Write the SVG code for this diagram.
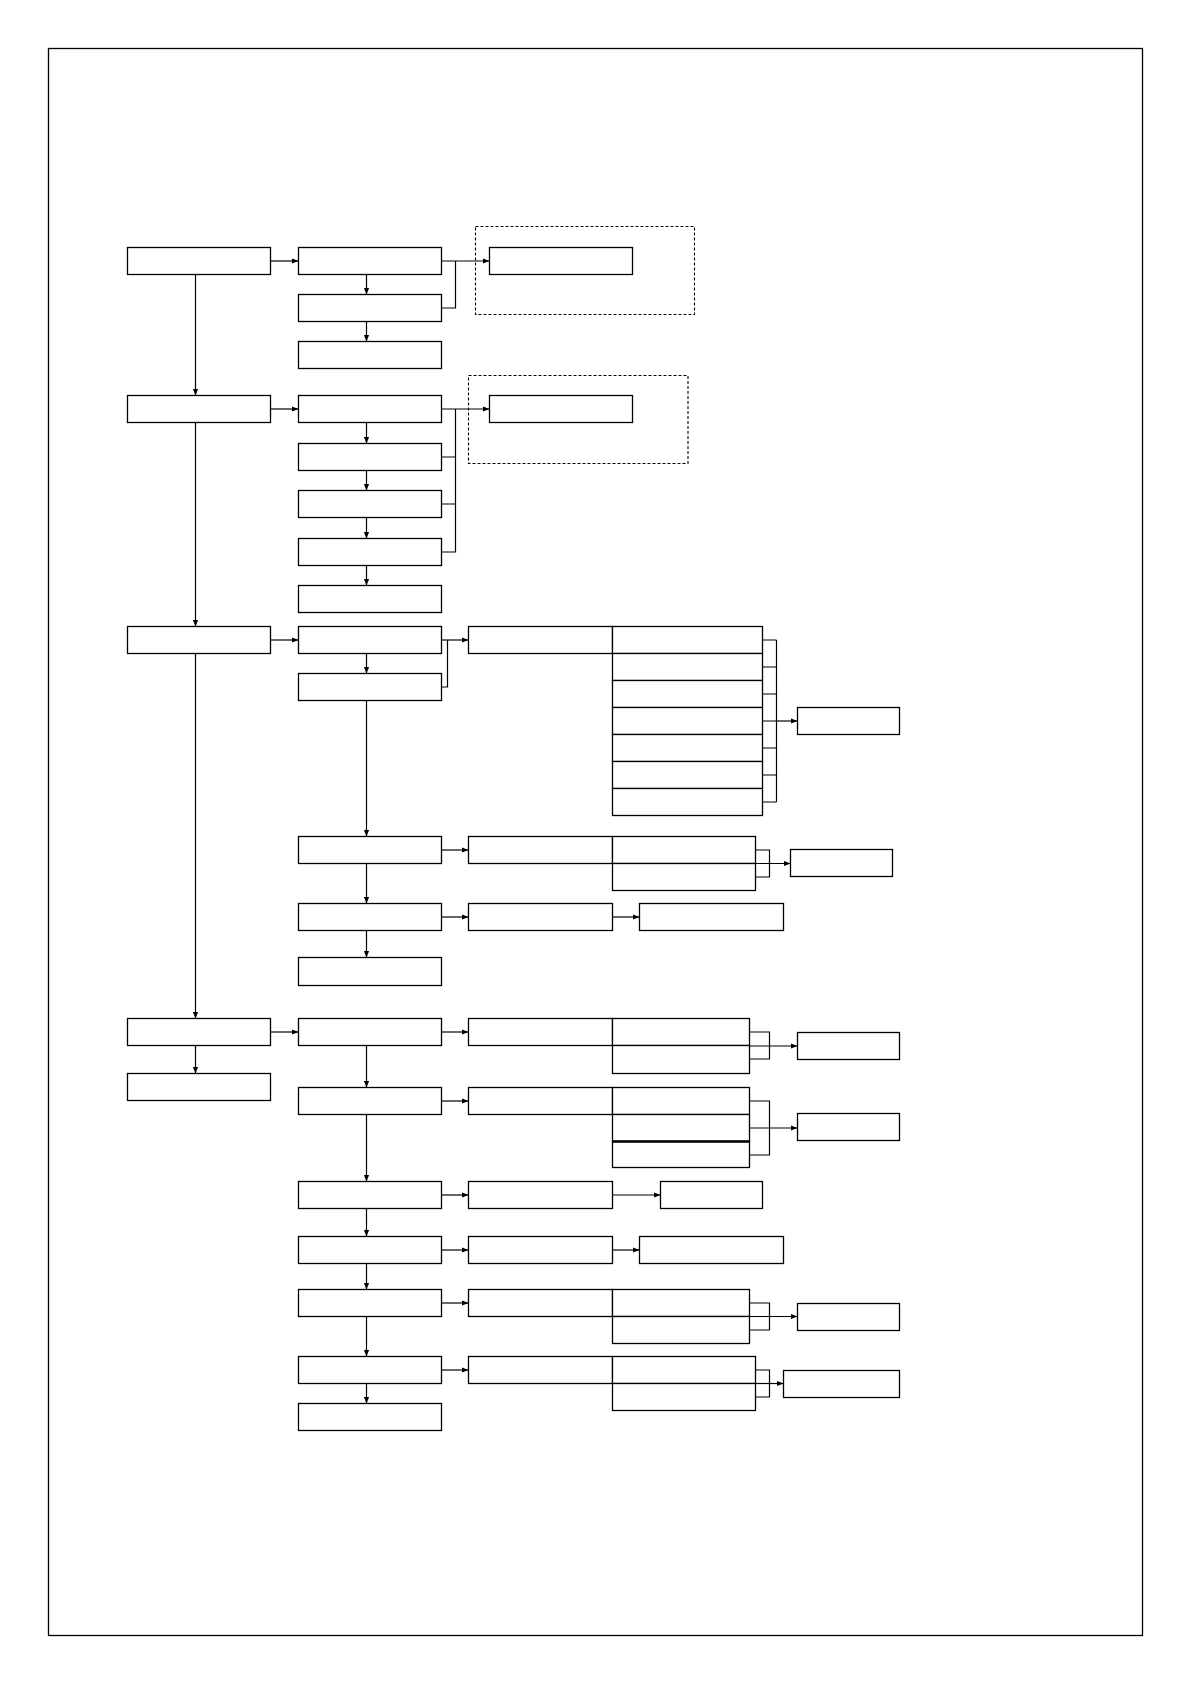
<svg xmlns="http://www.w3.org/2000/svg" width="1191" height="1684" viewBox="0 0 1191 1684">
<style>
.n{fill:#fff;stroke:#000;stroke-width:1.3}
.d{fill:none;stroke:#000;stroke-width:1.1;stroke-dasharray:3 2}
.c{fill:none;stroke:#000;stroke-width:1.2}
.a{fill:none;stroke:#000;stroke-width:1.2;marker-end:url(#ah)}
</style>
<defs>
<marker id="ah" viewBox="0 0 10 10" refX="10" refY="5" markerWidth="7" markerHeight="7" markerUnits="userSpaceOnUse" orient="auto"><path d="M0,1 L10,5 L0,9 z" fill="#000"/></marker>
</defs>
<rect width="1191" height="1684" fill="#fff"/>
<rect x="48.5" y="48.5" width="1094" height="1587" fill="none" stroke="#000" stroke-width="1.3"/>
<g id="groups">
<rect id="dash1" class="d" x="475.5" y="226.5" width="219" height="88"/>
<rect id="dash2" class="d" x="468.5" y="375.5" width="219.5" height="88"/>
</g>
<g id="nodes">
<g id="A1"><rect class="n" x="127.5" y="247.5" width="143" height="27"/></g>
<g id="A2"><rect class="n" x="127.5" y="395.5" width="143" height="27"/></g>
<g id="A3"><rect class="n" x="127.5" y="626.5" width="143" height="27"/></g>
<g id="A4"><rect class="n" x="127.5" y="1018.5" width="143" height="27"/></g>
<g id="A5"><rect class="n" x="127.5" y="1073.5" width="143" height="27"/></g>
<g id="B1"><rect class="n" x="298.5" y="247.5" width="143" height="27"/></g>
<g id="B2"><rect class="n" x="298.5" y="294.5" width="143" height="27"/></g>
<g id="B3"><rect class="n" x="298.5" y="341.5" width="143" height="27"/></g>
<g id="B4"><rect class="n" x="298.5" y="395.5" width="143" height="27"/></g>
<g id="B5"><rect class="n" x="298.5" y="443.5" width="143" height="27"/></g>
<g id="B6"><rect class="n" x="298.5" y="490.5" width="143" height="27"/></g>
<g id="B7"><rect class="n" x="298.5" y="538.5" width="143" height="27"/></g>
<g id="B8"><rect class="n" x="298.5" y="585.5" width="143" height="27"/></g>
<g id="B9"><rect class="n" x="298.5" y="626.5" width="143" height="27"/></g>
<g id="B10"><rect class="n" x="298.5" y="673.5" width="143" height="27"/></g>
<g id="B11"><rect class="n" x="298.5" y="836.5" width="143" height="27"/></g>
<g id="B12"><rect class="n" x="298.5" y="903.5" width="143" height="27"/></g>
<g id="B13"><rect class="n" x="298.5" y="957.5" width="143" height="28"/></g>
<g id="B14"><rect class="n" x="298.5" y="1018.5" width="143" height="27"/></g>
<g id="B15"><rect class="n" x="298.5" y="1087.5" width="143" height="27"/></g>
<g id="B16"><rect class="n" x="298.5" y="1181.5" width="143" height="27"/></g>
<g id="B17"><rect class="n" x="298.5" y="1236.5" width="143" height="27"/></g>
<g id="B18"><rect class="n" x="298.5" y="1289.5" width="143" height="27"/></g>
<g id="B19"><rect class="n" x="298.5" y="1356.5" width="143" height="27"/></g>
<g id="B20"><rect class="n" x="298.5" y="1403.5" width="143" height="27"/></g>
<g id="C1"><rect class="n" x="489.5" y="247.5" width="143" height="27"/></g>
<g id="C2"><rect class="n" x="489.5" y="395.5" width="143" height="27"/></g>
<g id="C3"><rect class="n" x="468.5" y="626.5" width="144" height="27"/></g>
<g id="C4"><rect class="n" x="468.5" y="836.5" width="144" height="27"/></g>
<g id="C5"><rect class="n" x="468.5" y="903.5" width="144" height="27"/></g>
<g id="C6"><rect class="n" x="468.5" y="1018.5" width="144" height="27"/></g>
<g id="C7"><rect class="n" x="468.5" y="1087.5" width="144" height="27"/></g>
<g id="C8"><rect class="n" x="468.5" y="1181.5" width="144" height="27"/></g>
<g id="C9"><rect class="n" x="468.5" y="1236.5" width="144" height="27"/></g>
<g id="C10"><rect class="n" x="468.5" y="1289.5" width="144" height="27"/></g>
<g id="C11"><rect class="n" x="468.5" y="1356.5" width="144" height="27"/></g>
<g id="D3">
<rect class="n" x="612.5" y="626.5" width="150" height="27"/>
<rect class="n" x="612.5" y="653.5" width="150" height="27"/>
<rect class="n" x="612.5" y="680.5" width="150" height="27"/>
<rect class="n" x="612.5" y="707.5" width="150" height="27"/>
<rect class="n" x="612.5" y="734.5" width="150" height="27"/>
<rect class="n" x="612.5" y="761.5" width="150" height="27"/>
<rect class="n" x="612.5" y="788.5" width="150" height="27"/>
</g>
<g id="D4">
<rect class="n" x="612.5" y="836.5" width="143" height="27"/>
<rect class="n" x="612.5" y="863.5" width="143" height="27"/>
</g>
<g id="D6">
<rect class="n" x="612.5" y="1018.5" width="137" height="27"/>
<rect class="n" x="612.5" y="1045.5" width="137" height="28"/>
</g>
<g id="D7">
<rect class="n" x="612.5" y="1087.5" width="137" height="27"/>
<rect class="n" x="612.5" y="1114.5" width="137" height="27"/>
<rect class="n" x="612.5" y="1141.5" width="137" height="26"/>
<line x1="612.5" y1="1141.5" x2="749.5" y2="1141.5" stroke="#000" stroke-width="2.4"/>
</g>
<g id="D10">
<rect class="n" x="612.5" y="1289.5" width="137" height="27"/>
<rect class="n" x="612.5" y="1316.5" width="137" height="27"/>
</g>
<g id="D11">
<rect class="n" x="612.5" y="1356.5" width="143" height="27"/>
<rect class="n" x="612.5" y="1383.5" width="143" height="27"/>
</g>
<g id="E1"><rect class="n" x="797.5" y="707.5" width="102" height="27"/></g>
<g id="E2"><rect class="n" x="790.5" y="849.5" width="102" height="27"/></g>
<g id="E3"><rect class="n" x="797.5" y="1032.5" width="102" height="27"/></g>
<g id="E4"><rect class="n" x="797.5" y="1113.5" width="102" height="27"/></g>
<g id="E5"><rect class="n" x="797.5" y="1303.5" width="102" height="27"/></g>
<g id="E6"><rect class="n" x="783.5" y="1370.5" width="116" height="27"/></g>
<g id="F1"><rect class="n" x="639.5" y="903.5" width="144" height="27"/></g>
<g id="F2"><rect class="n" x="639.5" y="1236.5" width="144" height="27"/></g>
<g id="G1"><rect class="n" x="660.5" y="1181.5" width="102" height="27"/></g>
</g>
<g id="connectors">
<path class="a" d="M195.5,274.5 V395.5"/>
<path class="a" d="M195.5,422.5 V626.5"/>
<path class="a" d="M195.5,653.5 V1018.5"/>
<path class="a" d="M195.5,1045.5 V1073.5"/>
<path class="a" d="M270.5,261 H298.5"/>
<path class="a" d="M270.5,409 H298.5"/>
<path class="a" d="M270.5,640 H298.5"/>
<path class="a" d="M270.5,1032 H298.5"/>
<path class="a" d="M366.5,274.5 V294.5"/>
<path class="a" d="M366.5,321.5 V341.5"/>
<path class="a" d="M366.5,422.5 V443.5"/>
<path class="a" d="M366.5,470.5 V490.5"/>
<path class="a" d="M366.5,517.5 V538.5"/>
<path class="a" d="M366.5,565.5 V585.5"/>
<path class="a" d="M366.5,653.5 V673.5"/>
<path class="a" d="M366.5,700.5 V836.5"/>
<path class="a" d="M366.5,863.5 V903.5"/>
<path class="a" d="M366.5,930.5 V957.5"/>
<path class="a" d="M366.5,1045.5 V1087.5"/>
<path class="a" d="M366.5,1114.5 V1181.5"/>
<path class="a" d="M366.5,1208.5 V1236.5"/>
<path class="a" d="M366.5,1263.5 V1289.5"/>
<path class="a" d="M366.5,1316.5 V1356.5"/>
<path class="a" d="M366.5,1383.5 V1403.5"/>
<path class="a" d="M441.5,261 H489.5"/>
<path class="c" d="M441.5,308 H455.5 V261"/>
<path class="a" d="M441.5,409 H489.5"/>
<path class="c" d="M441.5,457 H455.5 M441.5,504 H455.5 M441.5,552 H455.5 V409"/>
<path class="a" d="M441.5,640 H468.5"/>
<path class="c" d="M441.5,687 H447.5 V640"/>
<path class="c" d="M762.5,640 H776.5 M762.5,667 H776.5 M762.5,694 H776.5 M762.5,721 H776.5 M762.5,748 H776.5 M762.5,775 H776.5 M762.5,802 H776.5 M776.5,640 V802"/>
<path class="a" d="M776.5,721 H797.5"/>
<path class="a" d="M441.5,850 H468.5"/>
<path class="c" d="M755.5,850 H769.5 V877 H755.5"/>
<path class="a" d="M755.5,863.5 H790.5"/>
<path class="a" d="M441.5,917 H468.5"/>
<path class="a" d="M612.5,917 H639.5"/>
<path class="a" d="M441.5,1032 H468.5"/>
<path class="c" d="M749.5,1032 H769.5 V1059 H749.5"/>
<path class="a" d="M749.5,1046 H797.5"/>
<path class="a" d="M441.5,1101 H468.5"/>
<path class="c" d="M749.5,1101 H769.5 V1155 H749.5"/>
<path class="a" d="M749.5,1128 H797.5"/>
<path class="a" d="M441.5,1195 H468.5"/>
<path class="a" d="M612.5,1195 H660.5"/>
<path class="a" d="M441.5,1250 H468.5"/>
<path class="a" d="M612.5,1250 H639.5"/>
<path class="a" d="M441.5,1303 H468.5"/>
<path class="c" d="M749.5,1303 H769.5 V1330 H749.5"/>
<path class="a" d="M749.5,1316.5 H797.5"/>
<path class="a" d="M441.5,1370 H468.5"/>
<path class="c" d="M755.5,1370 H769.5 V1397 H755.5"/>
<path class="a" d="M755.5,1383.5 H783.5"/>
</g>
</svg>
